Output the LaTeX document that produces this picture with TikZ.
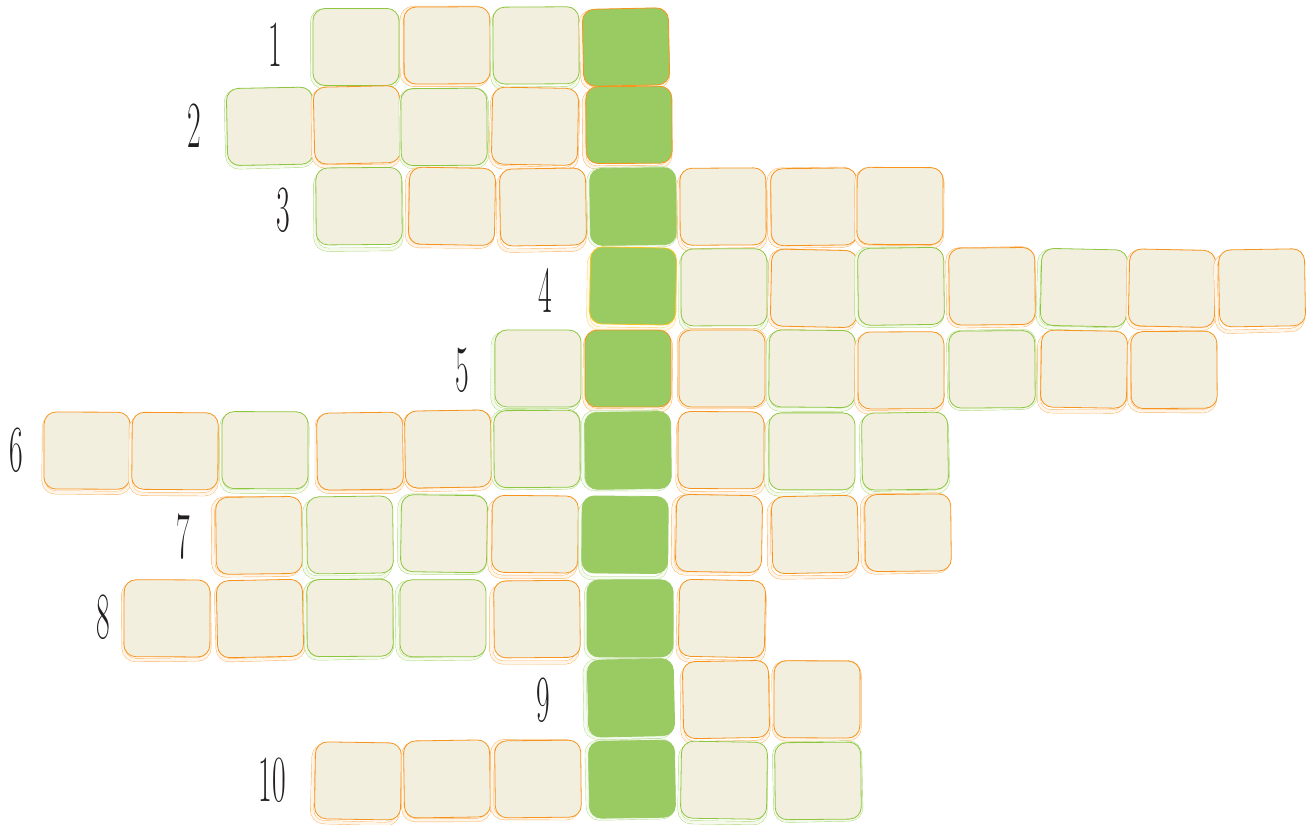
\documentclass[tikz,border=0pt]{standalone}
\usepackage{graphicx}
\definecolor{cream}{HTML}{F3EFDF}
\definecolor{leaf}{HTML}{9ACB62}
\definecolor{orng}{HTML}{F7941D}
\definecolor{grn}{HTML}{8DC63F}
\definecolor{gold}{HTML}{F9C31F}
\definecolor{ink}{HTML}{231F20}
\tikzset{
  cellbox/.style 2 args={draw=#1, fill=#2, line width=0.8pt, rounded corners=12pt,
    minimum width=86pt, minimum height=77pt, inner sep=0pt},
  shadowbox/.style={draw=#1!70, double=#1!10, double distance=3pt, line width=0.4pt,
    rounded corners=12pt, minimum width=86pt, minimum height=77pt, inner sep=0pt,
    preaction={draw=#1!55, line width=3.8pt, dash pattern=on 0.5pt off 2.6pt}},
  numlabel/.style={text=ink, inner sep=0pt, font=\fontsize{66}{66}\selectfont}
}
\begin{document}
\begin{tikzpicture}[x=1pt,y=-1pt]
\useasboundingbox (0,0) rectangle (1313,824);
\pgfmathsetseed{11}
\foreach \r/\y/\cells in {
  1/46/{1/356/grn/cream,2/447/orng/cream,3/536/grn/cream,4/626/orng/leaf},
  2/126/{1/270/grn/cream,2/357/orng/cream,3/444/grn/cream,4/535/orng/cream,5/629/orng/leaf},
  3/206/{1/359/grn/cream,2/452/orng/cream,3/543/orng/cream,4/633/leaf/leaf,5/723/orng/cream,6/814/orng/cream,7/900/orng/cream},
  4/287/{1/633/gold/leaf,2/724/grn/cream,3/814/orng/cream,4/901/grn/cream,5/992/orng/cream,6/1084/grn/cream,7/1172/orng/cream,8/1262/orng/cream},
  5/370/{1/538/grn/cream,2/628/orng/leaf,3/722/orng/cream,4/812/grn/cream,5/901/orng/cream,6/992/grn/cream,7/1084/orng/cream,8/1174/orng/cream},
  6/450/{1/87/orng/cream,2/175/orng/cream,3/265/grn/cream,4/360/orng/cream,5/448/orng/cream,6/537/grn/cream,7/628/leaf/leaf,8/721/orng/cream,9/812/grn/cream,10/905/grn/cream},
  7/534/{1/259/orng/cream,2/350/grn/cream,3/444/grn/cream,4/535/orng/cream,5/625/leaf/leaf,6/719/orng/cream,7/815/orng/cream,8/908/orng/cream},
  8/619/{1/167/orng/cream,2/260/orng/cream,3/350/grn/cream,4/443/grn/cream,5/537/orng/cream,6/630/leaf/leaf,7/722/orng/cream},
  9/699/{1/631/leaf/leaf,2/726/orng/cream,3/817/orng/cream},
  10/780/{1/358/orng/cream,2/447/orng/cream,3/538/orng/cream,4/632/leaf/leaf,5/724/grn/cream,6/818/grn/cream}} {
  \foreach \i/\x/\col/\fillc in \cells {
    \pgfmathsetmacro\yy{\y+1.5*rand}
    \pgfmathsetmacro\rot{1.3*rand}
    \pgfmathsetmacro\sdx{-1.5+1.5*rand}
    \pgfmathsetmacro\sdy{2.5+2.5*rand}
    \node[shadowbox=\col, rotate=\rot+0.8*rand, name=s\r c\i] at (\x+\sdx,\yy+\sdy) {};
    \node[cellbox={\col}{\fillc}, rotate=\rot, name=b\r c\i] at (\x,\yy) {};
  }
}
\node[numlabel] (n1) at (275,45) {\scalebox{0.45}[1]{1}};
\node[numlabel] (n2) at (194,126) {\scalebox{0.45}[1]{2}};
\node[numlabel] (n3) at (283,210) {\scalebox{0.45}[1]{3}};
\node[numlabel] (n4) at (545,290) {\scalebox{0.45}[1]{4}};
\node[numlabel] (n5) at (462,370) {\scalebox{0.45}[1]{5}};
\node[numlabel] (n6) at (16,450) {\scalebox{0.45}[1]{6}};
\node[numlabel] (n7) at (183,537) {\scalebox{0.45}[1]{7}};
\node[numlabel] (n8) at (103,617) {\scalebox{0.45}[1]{8}};
\node[numlabel] (n9) at (543,700) {\scalebox{0.45}[1]{9}};
\node[numlabel] (n10) at (272,780) {\scalebox{0.45}[1]{10}};
\end{tikzpicture}
\end{document}
